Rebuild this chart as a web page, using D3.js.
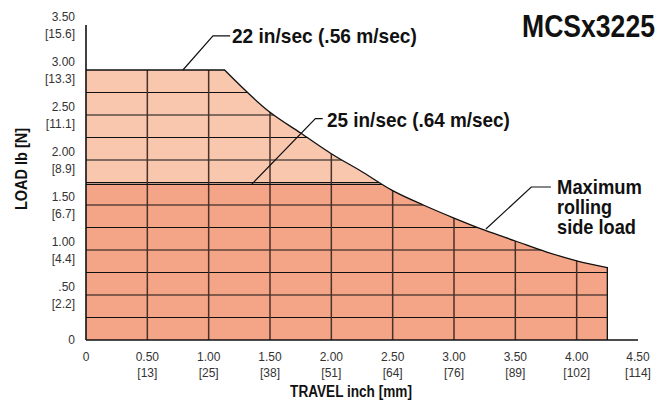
<!DOCTYPE html>
<html>
<head>
<meta charset="utf-8">
<script src="https://cdn.jsdelivr.net/npm/d3@7"></script>
<style>
  body { margin: 0; background: #fff; }
  .tick { font-family: "Liberation Sans", Arial, sans-serif; font-size: 12px; fill: #333; }
  .bold { font-family: "Liberation Sans", Arial, sans-serif; font-weight: bold; fill: #111; }
</style>
</head>
<body>
<div id="chart"></div>
<script>
// chart size
var chart_width = 666;
var chart_height = 400;

// axis ticks
var xTicks = [0, 0.5, 1.0, 1.5, 2.0, 2.5, 3.0, 3.5, 4.0, 4.5];
var xTickInch = ["0", "0.50", "1.00", "1.50", "2.00", "2.50", "3.00", "3.50", "4.00", "4.50"];
var xTickMm = ["", "[13]", "[25]", "[38]", "[51]", "[64]", "[76]", "[89]", "[102]", "[114]"];
var yTicks = [0, 0.5, 1.0, 1.5, 2.0, 2.5, 3.0, 3.5];
var yTickLb = ["0", ".50", "1.00", "1.50", "2.00", "2.50", "3.00", "3.50"];
var yTickN = ["", "[2.2]", "[4.4]", "[6.7]", "[8.9]", "[11.1]", "[13.3]", "[15.6]"];

// load limits
var load22 = 3.00;      // 22 in/sec
var load25 = 1.73;      // 25 in/sec
var maxTravel = 4.25;

// maximum rolling side load curve
var curveTravel = [1.13, 1.5, 1.75, 2.0, 2.25, 2.5, 2.75, 3.0, 3.25, 3.5, 3.75, 4.0, 4.25];
var curveLoad   = [3.00, 2.53, 2.30, 2.07, 1.87, 1.66, 1.50, 1.355, 1.22, 1.10, 0.98, 0.88, 0.805];

var gridX = [0.5, 1.0, 1.5, 2.0, 2.5, 3.0, 3.5, 4.0];
var gridY = [0.25, 0.5, 0.75, 1.0, 1.25, 1.5, 1.75, 2.0, 2.25, 2.5, 2.75];

var x = d3.scaleLinear().domain([0, 4.5]).range([86, 638]);
var y = d3.scaleLinear().domain([0, 3.5]).range([340, 25]);

var svg = d3.select('#chart')
            .append('svg')
            .attr('width', chart_width)
            .attr('height', chart_height);

var curvePts = curveTravel.map(function(t, i){ return [t, curveLoad[i]]; });

var line = d3.line()
             .x(function(d){ return x(d[0]); })
             .y(function(d){ return y(d[1]); });
var smooth = d3.line()
             .x(function(d){ return x(d[0]); })
             .y(function(d){ return y(d[1]); })
             .curve(d3.curveMonotoneX);

// top edge: flat at 22 in/sec load, then the curve, then down at max travel
var curveD = smooth(curvePts).replace(/^M/, 'L');
var topD = 'M' + x(0) + ',' + y(load22) + curveD + 'L' + x(maxTravel) + ',' + y(0);
var areaD = 'M' + x(0) + ',' + y(0) + 'L' + x(0) + ',' + y(load22) + curveD +
            'L' + x(maxTravel) + ',' + y(0) + 'Z';

var defs = svg.append('defs');
defs.append('clipPath')
   .attr('id', 'clip')
   .append('path')
   .attr('d', areaD);
defs.append('clipPath')
   .attr('id', 'clip25')
   .append('rect')
   .attr('x', x(0))
   .attr('y', y(load25))
   .attr('width', x(maxTravel) - x(0))
   .attr('height', y(0) - y(load25));

// light area (22 in/sec)
svg.append('path')
   .attr('d', areaD)
   .attr('fill', '#f9c6ae');

// dark area (25 in/sec)
svg.append('path')
   .attr('d', areaD)
   .attr('clip-path', 'url(#clip25)')
   .attr('fill', '#f4a588');

var grid = svg.append('g').attr('clip-path', 'url(#clip)');

grid.selectAll('.hgrid')
    .data(gridY)
    .enter()
    .append('line')
    .attr('x1', x(0))
    .attr('x2', x(maxTravel))
    .attr('y1', function(d){ return y(d); })
    .attr('y2', function(d){ return y(d); })
    .attr('stroke', '#111')
    .attr('stroke-width', 1.2);

grid.selectAll('.vgrid')
    .data(gridX)
    .enter()
    .append('line')
    .attr('x1', function(d){ return x(d); })
    .attr('x2', function(d){ return x(d); })
    .attr('y1', y(0))
    .attr('y2', y(load22))
    .attr('stroke', '#4a3028')
    .attr('stroke-width', 1.5);

// 25 in/sec top
grid.append('line')
   .attr('x1', x(0))
   .attr('x2', x(maxTravel))
   .attr('y1', y(load25))
   .attr('y2', y(load25))
   .attr('stroke', '#111')
   .attr('stroke-width', 1.3);

// outline
svg.append('path')
   .attr('d', topD)
   .attr('fill', 'none')
   .attr('stroke', '#111')
   .attr('stroke-width', 1.3);

// axes
svg.append('line')
   .attr('x1', x(0)).attr('x2', x(4.5))
   .attr('y1', y(0)).attr('y2', y(0))
   .attr('stroke', '#111').attr('stroke-width', 1.6);
svg.append('line')
   .attr('x1', x(0)).attr('x2', x(0))
   .attr('y1', y(0)).attr('y2', y(3.5))
   .attr('stroke', '#111').attr('stroke-width', 1.6);

// x tick labels
svg.selectAll('.xt')
   .data(xTicks)
   .enter()
   .append('text')
   .attr('class', 'tick')
   .attr('x', function(d){ return x(d); })
   .attr('y', 361)
   .attr('text-anchor', 'middle')
   .text(function(d, i){ return xTickInch[i]; });
svg.selectAll('.xm')
   .data(xTicks)
   .enter()
   .append('text')
   .attr('class', 'tick')
   .attr('x', function(d){ return x(d); })
   .attr('y', 377)
   .attr('text-anchor', 'middle')
   .text(function(d, i){ return xTickMm[i]; });

// y tick labels
svg.selectAll('.yt')
   .data(yTicks)
   .enter()
   .append('text')
   .attr('class', 'tick')
   .attr('x', 75)
   .attr('y', function(d, i){ return y(d) + (i === 0 ? 4 : -4); })
   .attr('text-anchor', 'end')
   .text(function(d, i){ return yTickLb[i]; });
svg.selectAll('.yn')
   .data(yTicks)
   .enter()
   .append('text')
   .attr('class', 'tick')
   .attr('x', 75)
   .attr('y', function(d){ return y(d) + 13; })
   .attr('text-anchor', 'end')
   .text(function(d, i){ return yTickN[i]; });

// condensed bold text: squeeze Liberation Sans Bold horizontally to the reference width
function boldText(px, py, size, width, str, anchor, rotate){
    var t = svg.append('text')
       .attr('class', 'bold')
       .attr('font-size', size)
       .attr('text-anchor', anchor || 'start')
       .text(str);
    var sx = width / t.node().getComputedTextLength();
    t.attr('transform', 'translate(' + px + ',' + py + ')' +
           (rotate ? ' rotate(-90)' : '') + ' scale(' + sx + ',1)');
    return t;
}

// axis titles
boldText(351, 397, 17, 122, 'TRAVEL inch [mm]', 'middle');
boldText(27, 169, 16, 82, 'LOAD lb [N]', 'middle', true);

// title
boldText(522, 37, 32, 133, 'MCSx3225');

// callouts
var callouts = [
    { pts: [[0.79, load22], [1.035, 3.38], [1.175, 3.38]], lines: ['22 in/sec (.56 m/sec)'], widths: [185], tx: 1.19, ty: 3.38, dy: 7 },
    { pts: [[1.35, load25], [1.87, 2.46], [1.93, 2.46]], lines: ['25 in/sec (.64 m/sec)'], widths: [183], tx: 1.965, ty: 2.46, dy: 8.5 },
    { pts: [[3.26, 1.233], [3.63, 1.70], [3.79, 1.70]], lines: ['Maximum', 'rolling', 'side load'], widths: [85, 55, 79], tx: 3.84, ty: 1.70, dy: 6.5 }
];

callouts.forEach(function(c){
    svg.append('path')
       .attr('d', line(c.pts))
       .attr('fill', 'none')
       .attr('stroke', '#111')
       .attr('stroke-width', 1.2);
    c.lines.forEach(function(l, i){
        boldText(x(c.tx), y(c.ty) + c.dy + i * 20.4, 20, c.widths[i], l);
    });
});
</script>
</body>
</html>
